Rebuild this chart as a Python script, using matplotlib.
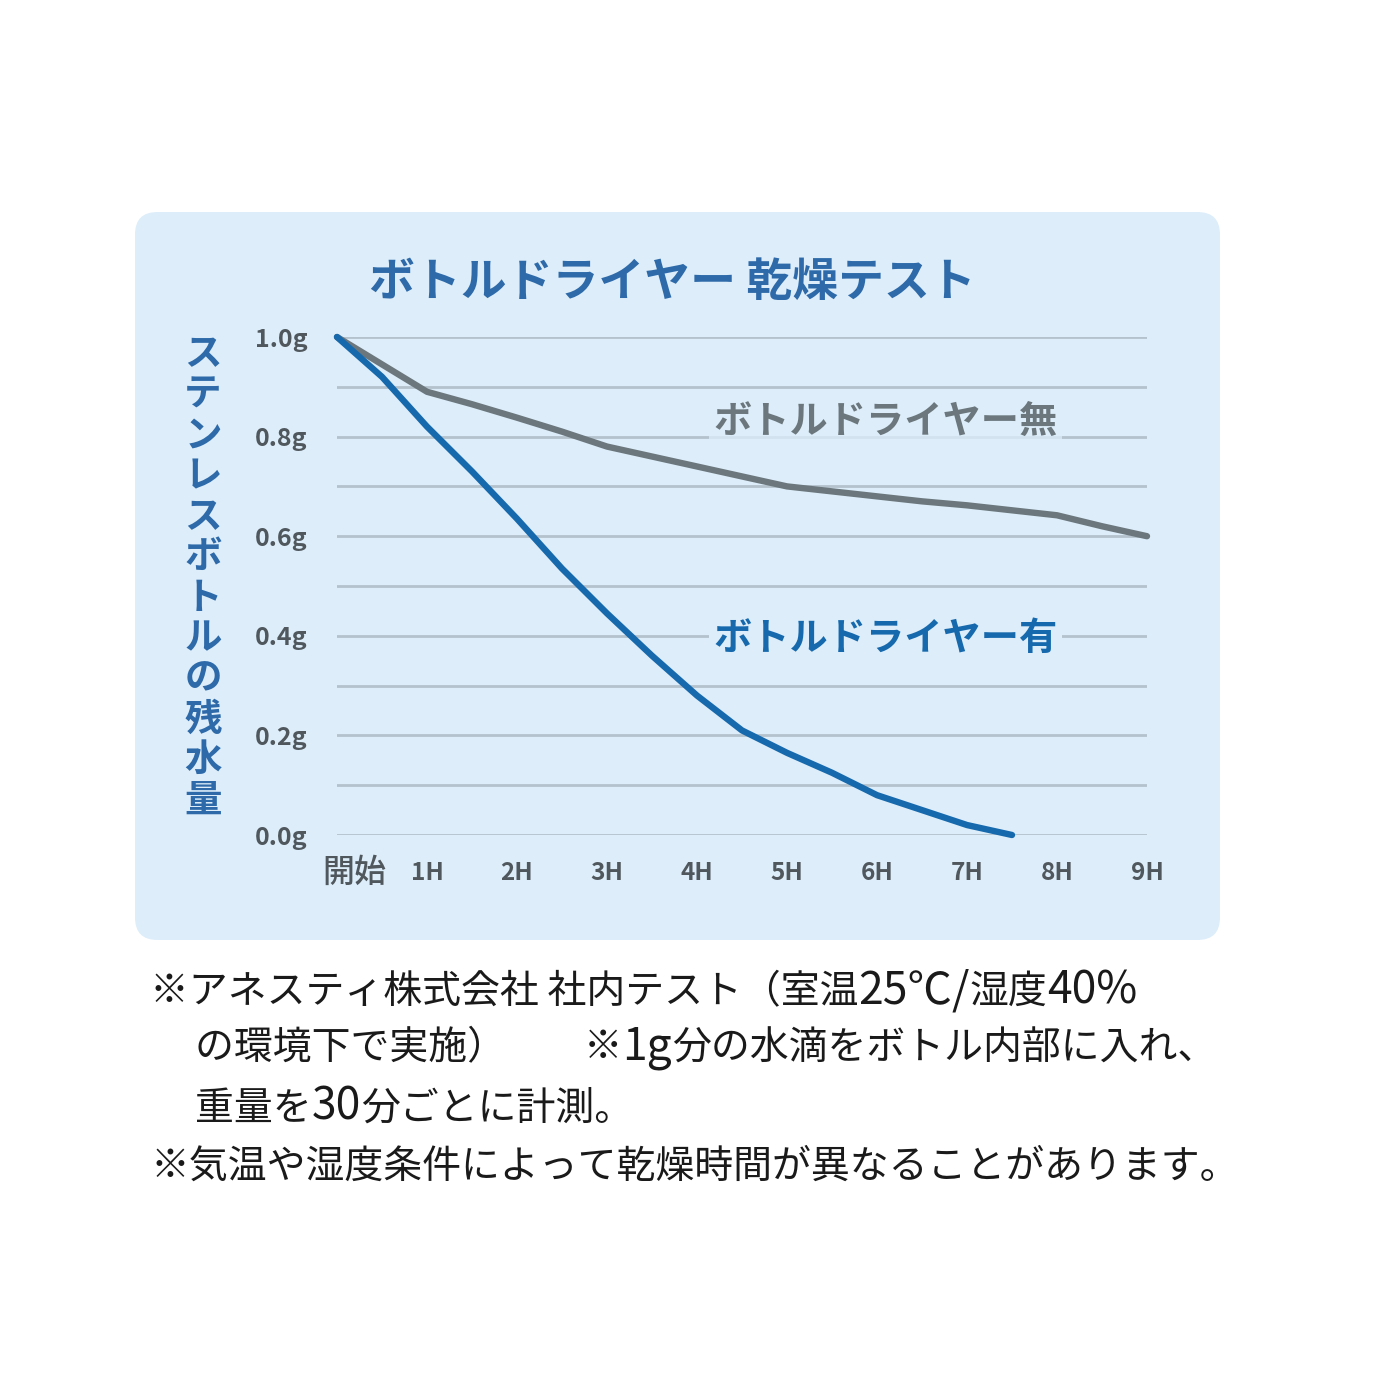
import re
import matplotlib
matplotlib.use("Agg")
import matplotlib.pyplot as plt
from matplotlib.patches import FancyBboxPatch
from matplotlib.offsetbox import TextArea, HPacker, AnnotationBbox
import matplotlib.transforms as mtransforms
import numpy as np

plt.rcParams['font.family'] = ['Noto Sans CJK JP', 'DejaVu Sans']

# ---------------- data ----------------
title = "ボトルドライヤー 乾燥テスト"
ylabel = "ステンレスボトルの残水量"
x_labels = ["開始", "1H", "2H", "3H", "4H", "5H", "6H", "7H", "8H", "9H"]
y_ticks = [0.0, 0.2, 0.4, 0.6, 0.8, 1.0]
y_labels = ["0.0g", "0.2g", "0.4g", "0.6g", "0.8g", "1.0g"]

hours_without = [0, 0.5, 1, 1.5, 2, 2.5, 3, 3.5, 4, 4.5, 5, 5.5, 6, 6.5, 7, 7.5, 8, 8.5, 9]
water_without = [1.0, 0.945, 0.89, 0.865, 0.838, 0.81, 0.78, 0.76, 0.74, 0.72, 0.70,
                 0.69, 0.68, 0.67, 0.662, 0.652, 0.642, 0.62, 0.60]
label_without = "ボトルドライヤー無"

hours_with = [0, 0.5, 1, 1.5, 2, 2.5, 3, 3.5, 4, 4.5, 5, 5.5, 6, 6.5, 7, 7.5]
water_with = [1.0, 0.92, 0.82, 0.73, 0.635, 0.535, 0.445, 0.36, 0.28, 0.21, 0.165,
              0.125, 0.08, 0.05, 0.02, 0.0]
label_with = "ボトルドライヤー有"

notes = [
    "※アネスティ株式会社 社内テスト（室温25℃/湿度40%",
    "の環境下で実施）　　※1g分の水滴をボトル内部に入れ、",
    "重量を30分ごとに計測。",
    "※気温や湿度条件によって乾燥時間が異なることがあります。",
]

# ---------------- style ----------------
panel_color = "#ddeefa"
grid_color = "#b3c2cc"
gray_line = "#6b777d"
blue_line = "#1769ad"
title_blue = "#2e6aa9"
tick_gray = "#50585e"

fig = plt.figure(figsize=(14, 14), dpi=100)
fig.patch.set_facecolor("white")

# rounded panel (x 135..1220 px, y 212..940 px)
panel = FancyBboxPatch((135 / 1400, 1 - 940 / 1400), (1220 - 135) / 1400, (940 - 212) / 1400,
                       boxstyle="round,pad=0.0,rounding_size=0.016",
                       transform=fig.transFigure, facecolor=panel_color,
                       edgecolor="none", zorder=-5)
fig.add_artist(panel)

ax = fig.add_axes([337 / 1400, 1 - 835 / 1400, 810 / 1400, 498 / 1400])
ax.set_zorder(2)
ax.set_facecolor("none")
ax.set_xlim(0, 9)
ax.set_ylim(0, 1)

# gridlines every 0.1
for v in np.arange(0, 1.001, 0.1):
    ax.axhline(v, color=grid_color, lw=2.0, zorder=1)

for s in ax.spines.values():
    s.set_visible(False)

ax.set_yticks(y_ticks)
ax.set_yticklabels(y_labels, fontsize=18, fontweight="bold", color=tick_gray)
ax.tick_params(axis="y", length=0, pad=21)
ax.set_xticks([])

# x labels
trans = mtransforms.blended_transform_factory(ax.transData, ax.transAxes)
for i, lab in enumerate(x_labels):
    if i == 0:
        ax.text(i - 0.16, -0.077, lab, transform=trans, ha="left", va="center",
                fontsize=23, fontweight="medium", color=tick_gray)
    else:
        ax.text(i, -0.077, lab, transform=trans, ha="center", va="center",
                fontsize=17.5, fontweight="bold", color=tick_gray)

# lines
ax.plot(hours_without, water_without, color=gray_line, lw=4.6, zorder=3,
        solid_joinstyle="round", solid_capstyle="round", clip_on=False)
ax.plot(hours_with, water_with, color=blue_line, lw=4.6, zorder=4,
        solid_joinstyle="round", solid_capstyle="round", clip_on=False)

# series labels
ax.text(4.18, 0.83, label_without, ha="left", va="center", fontsize=27.5,
        fontweight="bold", color=gray_line, zorder=2,
        bbox=dict(facecolor=panel_color, edgecolor="none", pad=3, alpha=0.75))
ax.text(4.18, 0.395, label_with, ha="left", va="center", fontsize=27.5,
        fontweight="bold", color=blue_line, zorder=2,
        bbox=dict(facecolor=panel_color, edgecolor="none", pad=3))

# title
fig.text(672 / 1400, 1 - 283 / 1400, title, ha="center", va="center",
         fontsize=33, fontweight="bold", color=title_blue)

# vertical y label (stacked characters)
n = len(ylabel)
top_y, bot_y = 354, 800
for k, ch in enumerate(ylabel):
    yy = top_y + (bot_y - top_y) * k / (n - 1)
    fig.text(203 / 1400, 1 - yy / 1400, ch, ha="center", va="center",
             fontsize=27, fontweight="bold", color=title_blue)

# notes: latin/digit runs drawn slightly larger, like the reference typeface
note_pos = [(150, 990), (195, 1047), (195, 1107), (150, 1167)]
for (px, py), line in zip(note_pos, notes):
    parts = [p for p in re.split(r"([0-9A-Za-z/%℃]+)", line) if p]
    boxes = []
    for p in parts:
        big = re.fullmatch(r"[0-9A-Za-z/%℃]+", p) is not None
        boxes.append(TextArea(p, textprops=dict(fontsize=32 if big else 28,
                                                color="#1a1a1a")))
    pack = HPacker(children=boxes, align="baseline", pad=0, sep=0)
    ab = AnnotationBbox(pack, (px / 1400, 1 - py / 1400), xycoords="figure fraction",
                        box_alignment=(0, 0.5), frameon=False, pad=0)
    fig.add_artist(ab)

fig.savefig("out.png", dpi=100, facecolor="white")
